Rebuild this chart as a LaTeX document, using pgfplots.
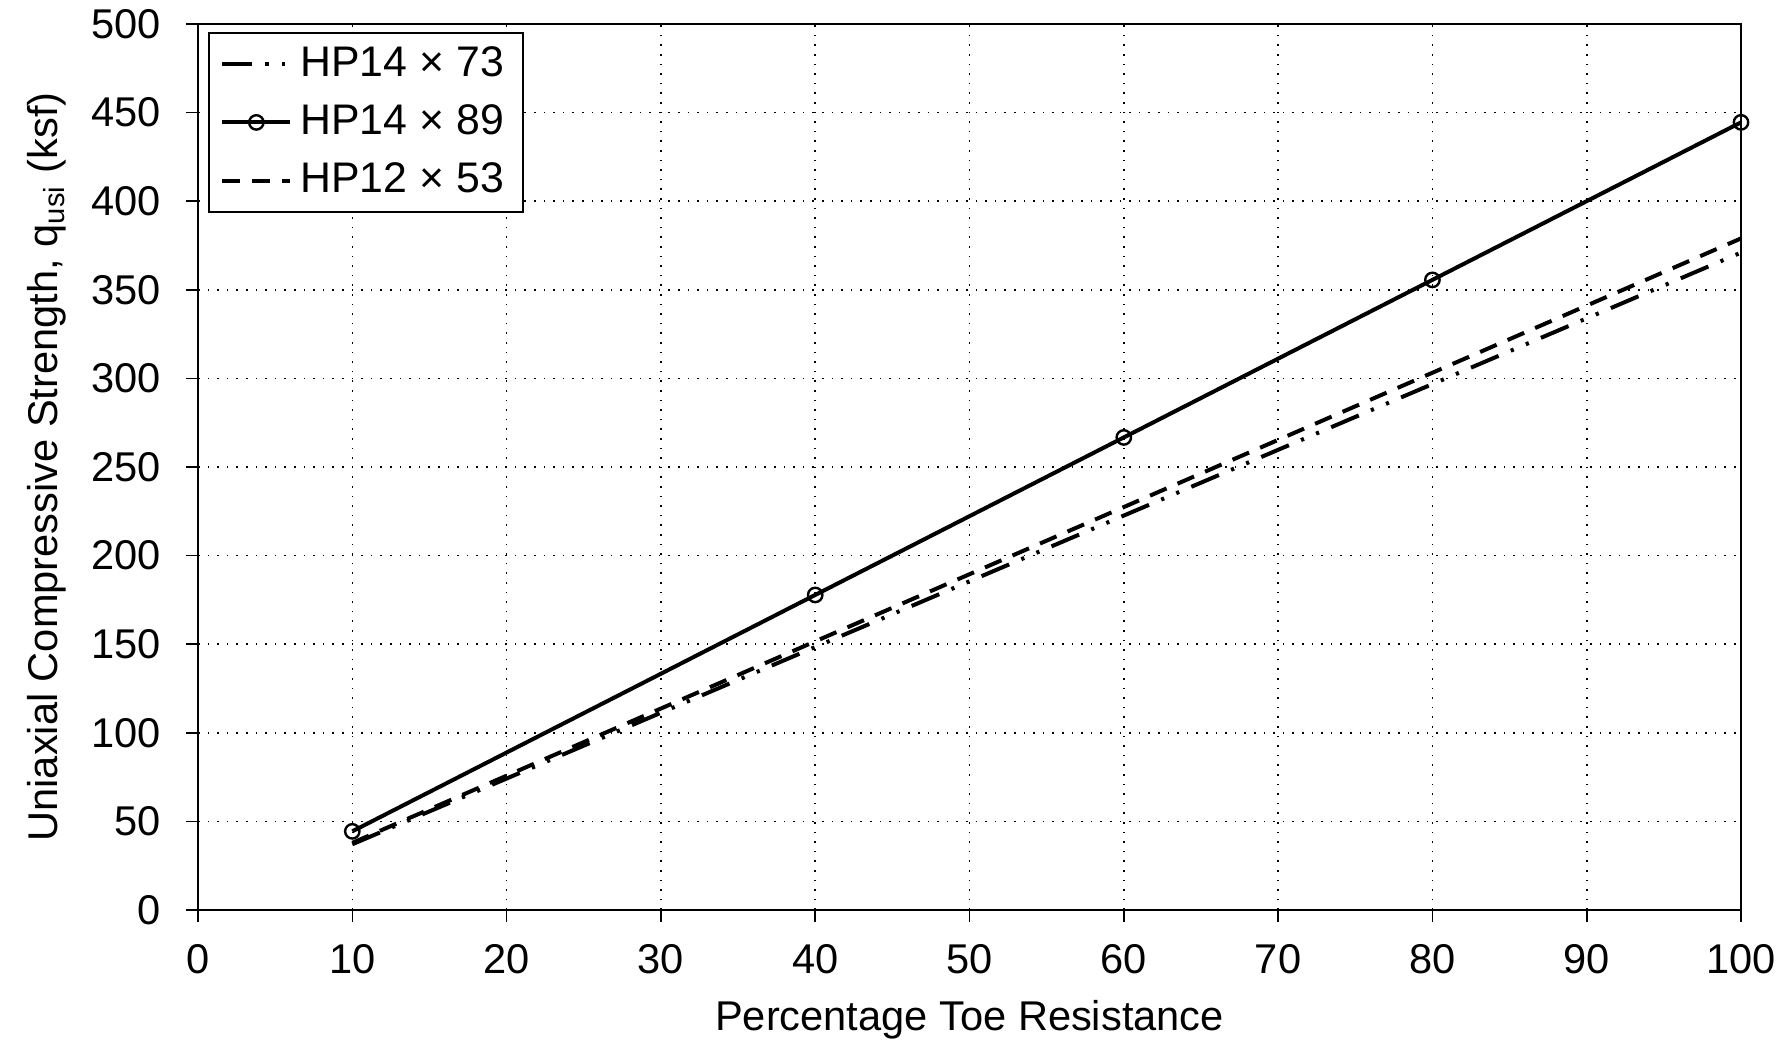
\documentclass[border=0pt]{standalone}
\usepackage{fontspec}
\setmainfont{Liberation Sans}
\usepackage{pgfplots}
\pgfplotsset{compat=1.18}
\begin{document}
\fontsize{10.4}{12.5}\selectfont
\begin{tikzpicture}
\begin{axis}[
  scale only axis, width=385.75pt, height=221.5pt,
  at={(0,0)}, anchor=south west,
  xmin=0, xmax=100, ymin=0, ymax=500,
  xtick distance=10, ytick distance=50,
  grid=major, grid style={black, dotted, line width=0.4pt},
  axis line style={black, line width=0.6pt},
  tick pos=left, tick align=outside, major tick length=3pt,
  tick style={black, line width=0.4pt},
  /pgf/number format/assume math mode=true,
  ticklabel style={font=\fontsize{10.4}{12.5}\selectfont},
  xticklabel style={yshift=-1.9pt},
  yticklabel style={xshift=-2.6pt},
  label style={font=\fontsize{10.4}{12.5}\selectfont},
  xlabel={Percentage Toe Resistance},
  ylabel={Uniaxial Compressive Strength, q\textsubscript{usi} (ksf)},
  xlabel style={yshift=0.6pt},
  ylabel style={yshift=-0.7pt},
  legend cell align=left,
  legend style={at={(0,1)}, anchor=north west, xshift=2.5pt, yshift=-2pt,
    draw=black, line width=0.5pt, font=\fontsize{10.7}{12.8}\selectfont,
    inner xsep=2.8pt, inner ysep=1.3pt, row sep=1.5pt,
    /tikz/every even column/.append style={column sep=0pt}},
]
\addplot[black, line width=1pt, dash pattern=on 7.5pt off 3.3pt on 0.8pt off 3.3pt on 0.8pt off 3.3pt]
  coordinates {(10,37.1) (40,148.4) (60,222.6) (80,296.8) (100,371)};
\addlegendentry{HP14 × 73}
\addplot[black, line width=1pt, mark=o, mark size=1.8pt, mark options={solid, line width=0.6pt}]
  coordinates {(10,44.4) (40,177.8) (60,266.7) (80,355.6) (100,444.5)};
\addlegendentry{HP14 × 89}
\addplot[black, line width=1pt, dash pattern=on 4.5pt off 3pt]
  coordinates {(10,37.9) (40,151.6) (60,227.4) (80,303.2) (100,379)};
\addlegendentry{HP12 × 53}
\end{axis}
\pgfresetboundingbox
\path[use as bounding box] (-49.5pt,-32.75pt) rectangle (396.5pt,227.5pt);
\end{tikzpicture}
\end{document}
